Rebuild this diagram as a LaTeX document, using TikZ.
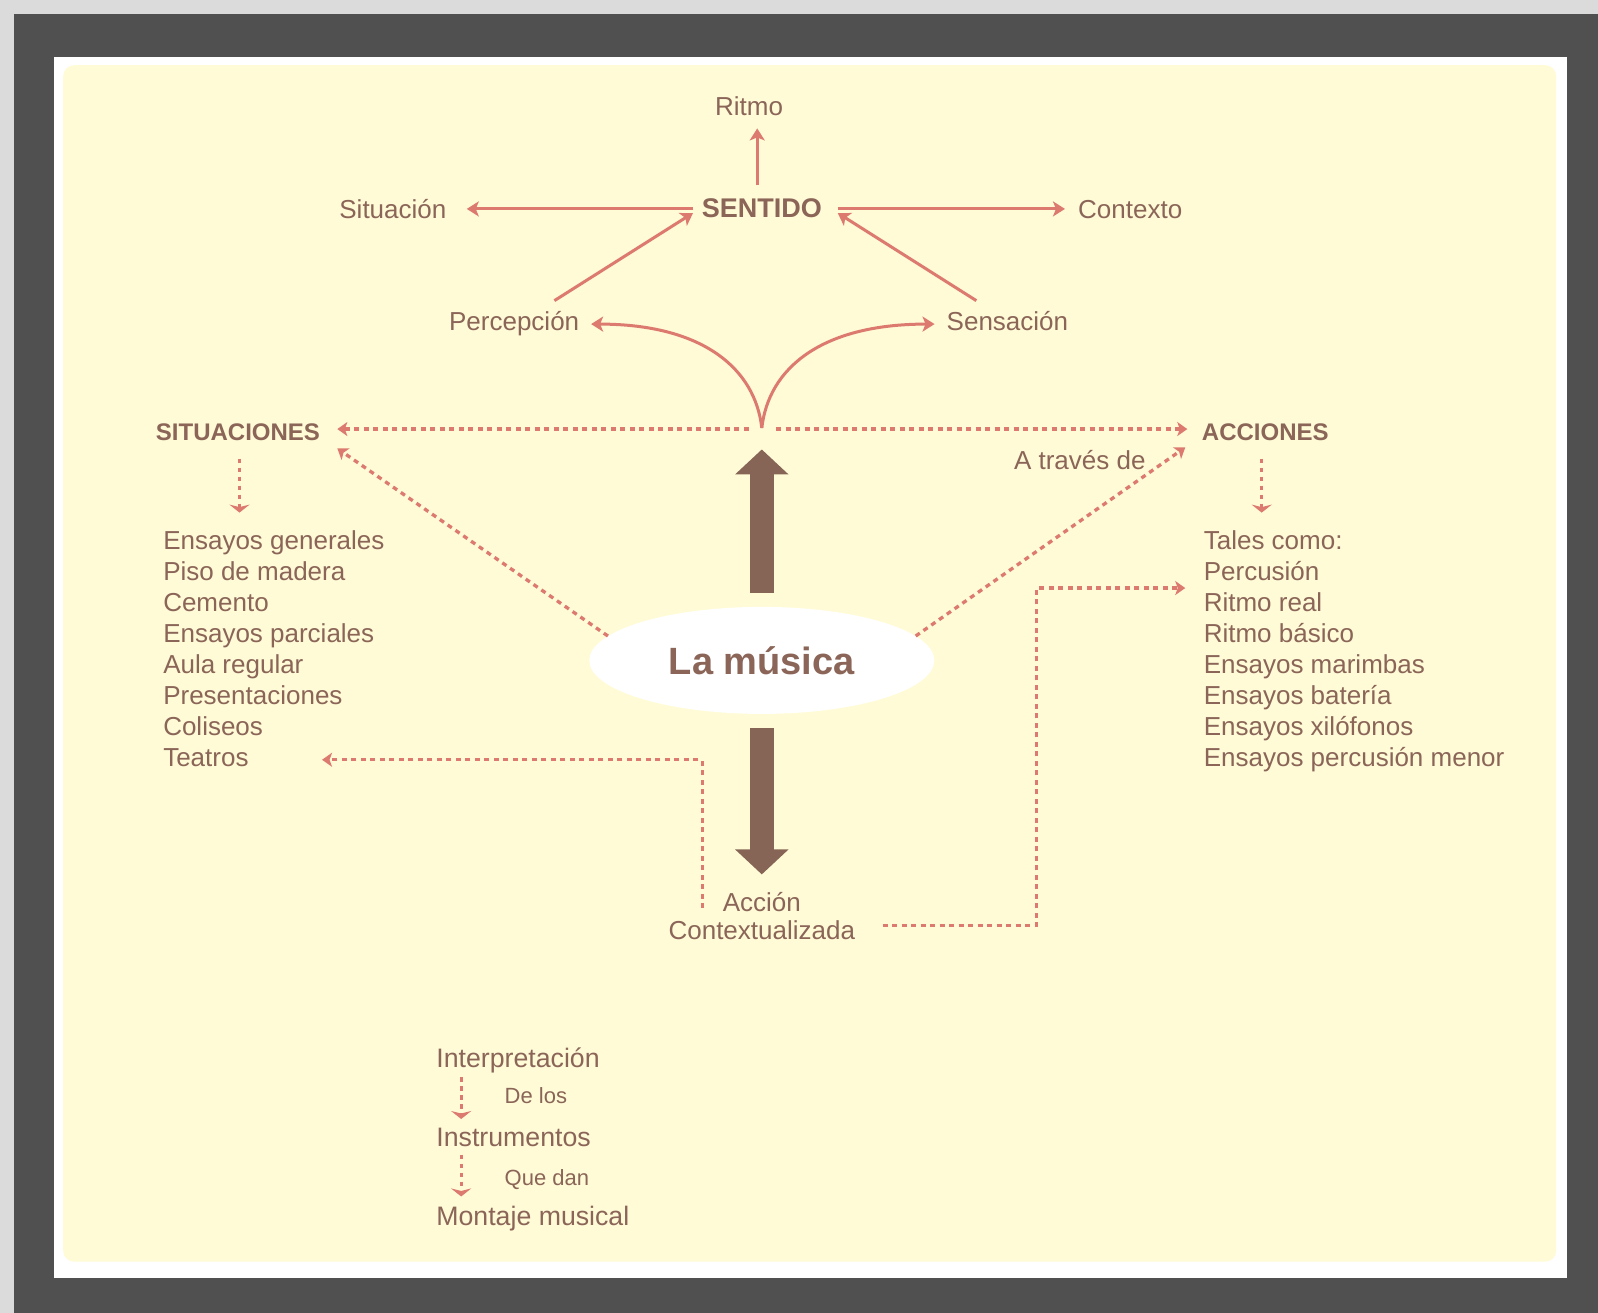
\documentclass[tikz,border=0pt]{standalone}
\usepackage{fontspec}
\setmainfont{Liberation Sans}
\usetikzlibrary{arrows.meta,calc,shapes.geometric}
\definecolor{txt}{HTML}{8A6558}
\definecolor{pinkline}{HTML}{DC7A70}
\definecolor{thickc}{HTML}{866557}
\definecolor{paper}{HTML}{FFFBD6}
\definecolor{framec}{HTML}{505050}
\begin{document}
\begin{tikzpicture}[x=1.0191pt,y=-1.0191pt,
  lbl/.style={text=txt,font=\fontsize{26}{31}\selectfont,inner sep=0pt,anchor=base},
  lblw/.style={lbl,anchor=base west},
  lblbig/.style={lblw,font=\fontsize{26.7}{32}\selectfont},
  lblb/.style={lbl,font=\fontsize{24}{29}\selectfont\bfseries},
  lbls/.style={lblw,font=\fontsize{22}{26}\selectfont},
  sol/.style={draw=pinkline,line width=3pt,-{Stealth[length=12pt,width=15pt,inset=3pt]}},
  dsh/.style={draw=pinkline,line width=3.3pt,dash pattern=on 5pt off 4.5pt,-{Stealth[length=10pt,width=14pt,inset=2.5pt]}},
  dshdown/.style={draw=pinkline,line width=3pt,dash pattern=on 4.5pt off 4.5pt,-{Stealth[length=8pt,width=20pt,inset=2.5pt]}},
  thickarr/.style={draw=thickc,line width=24pt,-{Triangle[length=25pt,width=52pt]}}
]
\useasboundingbox (0,0) rectangle (1568,1288);
% frame
\fill[black!14] (0,0) rectangle (1568,1288);
\fill[framec] (13.7,13.7) rectangle (1568,1288);
\fill[white] (53,56) rectangle (1538,1254);
\fill[paper,rounded corners=11pt] (62,64) rectangle (1527,1238);

% top labels
\node[lbl] (ritmo) at (735,113) {Ritmo};
\node[lbl,font=\fontsize{27}{32}\selectfont\bfseries] (sentido) at (747.5,213) {SENTIDO};
\node[lbl] (situacion) at (385.5,214) {Situación};
\node[lbl] (contexto) at (1109,214) {Contexto};
\node[lbl] (percepcion) at (504.5,324) {Percepción};
\node[lbl] (sensacion) at (988.5,324) {Sensación};
\node[lblb] (situaciones) at (233.5,432) {SITUACIONES};
\node[lblb] (acciones) at (1241.5,432) {ACCIONES};
\node[lbl] (atraves) at (1059.5,461) {A través de};
\coordinate (cusp) at (747.5,420);

% central ellipse
\node[ellipse,fill=white,minimum width=345pt,minimum height=107pt,inner sep=0pt,
      text=txt,font=\fontsize{38}{44}\selectfont\bfseries] (musica) at (747.5,648) {La música};

\node[lbl] (accion) at (747.5,894) {Acción};
\node[lbl] (contextualizada) at (747.5,922) {Contextualizada};

% left list
\node[lblw] (l1) at (160,539) {Ensayos generales};
\node[lblw] (l2) at (160,569.5) {Piso de madera};
\node[lblw] (l3) at (160,600) {Cemento};
\node[lblw] (l4) at (160,630.5) {Ensayos parciales};
\node[lblw] (l5) at (160,661) {Aula regular};
\node[lblw] (l6) at (160,691.5) {Presentaciones};
\node[lblw] (l7) at (160,722) {Coliseos};
\node[lblw] (teatros) at (160,752.5) {Teatros};

% right list
\node[lblw] (r0) at (1181,539) {Tales como:};
\node[lblw] (percusion) at (1181,569.5) {Percusión};
\node[lblw] (r2) at (1181,600) {Ritmo real};
\node[lblw] (r3) at (1181,630.5) {Ritmo básico};
\node[lblw] (r4) at (1181,661) {Ensayos marimbas};
\node[lblw] (r5) at (1181,691.5) {Ensayos batería};
\node[lblw] (r6) at (1181,722) {Ensayos xilófonos};
\node[lblw] (r7) at (1181,752.5) {Ensayos percusión menor};

% bottom
\node[lblbig] (interp) at (428,1047) {Interpretación};
\node[lbls] (delos) at (495,1083) {De los};
\node[lblbig] (instr) at (428,1124.5) {Instrumentos};
\node[lbls] (quedan) at (495,1163) {Que dan};
\node[lblbig] (montaje) at (428,1202) {Montaje musical};

% solid connectors
\draw[sol] ($(sentido.base)+(-4.5,-31)$) -- ($(ritmo.base)+(8,13)$);
\draw[sol] ($(sentido.base)+(-67.5,-8)$) -- ($(situacion.base)+(72.5,-9)$);
\draw[sol] ($(sentido.base)+(74.5,-8)$) -- ($(contexto.base)+(-64,-9)$);
\draw[sol] ($(percepcion.base)+(39.5,-29)$) -- ($(sentido.base)+(-67.5,-4)$);
\draw[sol] ($(sensacion.base)+(-30.5,-29)$) -- ($(sentido.base)+(74.5,-4)$);
\draw[sol] (cusp) .. controls (741,362) and (690,318) .. ($(percepcion.base)+(75.5,-6)$);
\draw[sol] (cusp) .. controls (754,362) and (805,318) .. ($(sensacion.base)+(-71.5,-6)$);

% dotted connectors
\draw[dsh] ($(cusp)+(-13,1)$) -- ($(situaciones.base)+(97.5,-11)$);
\draw[dsh] ($(cusp)+(14,1)$) -- ($(acciones.base)+(-76.5,-11)$);
\draw[dsh] (musica.171) -- ($(situaciones.base)+(97.5,8)$);
\draw[dsh] (musica.9) -- ($(acciones.base)+(-78.5,7)$);
\draw[dshdown] ($(situaciones.base)+(1.5,18)$) -- ($(situaciones.base)+(1.5,71)$);
\draw[dshdown] ($(acciones.base)+(-3.5,18)$) -- ($(acciones.base)+(-3.5,71)$);
\draw[dsh] ($(accion.base)+(-58.5,-3)$) |- ($(teatros.base west)+(156,-7)$);
\draw[dsh] ($(contextualizada.base)+(118.5,-14)$) -- ++(151,0) |- ($(percusion.base west)+(-18,7.5)$);
\draw[dshdown] ($(interp.base west)+(24.5,10)$) -- ($(instr.base west)+(24.5,-26.5)$);
\draw[dshdown] ($(instr.base west)+(24.5,8.5)$) -- ($(montaje.base west)+(24.5,-28)$);

% thick arrows
\draw[thickarr] ($(musica.north)+(0,-13.5)$) -- ($(cusp)+(0,21)$);
\draw[thickarr] ($(musica.south)+(0,14)$) -- ($(accion.base)+(0,-36)$);
\end{tikzpicture}
\end{document}
